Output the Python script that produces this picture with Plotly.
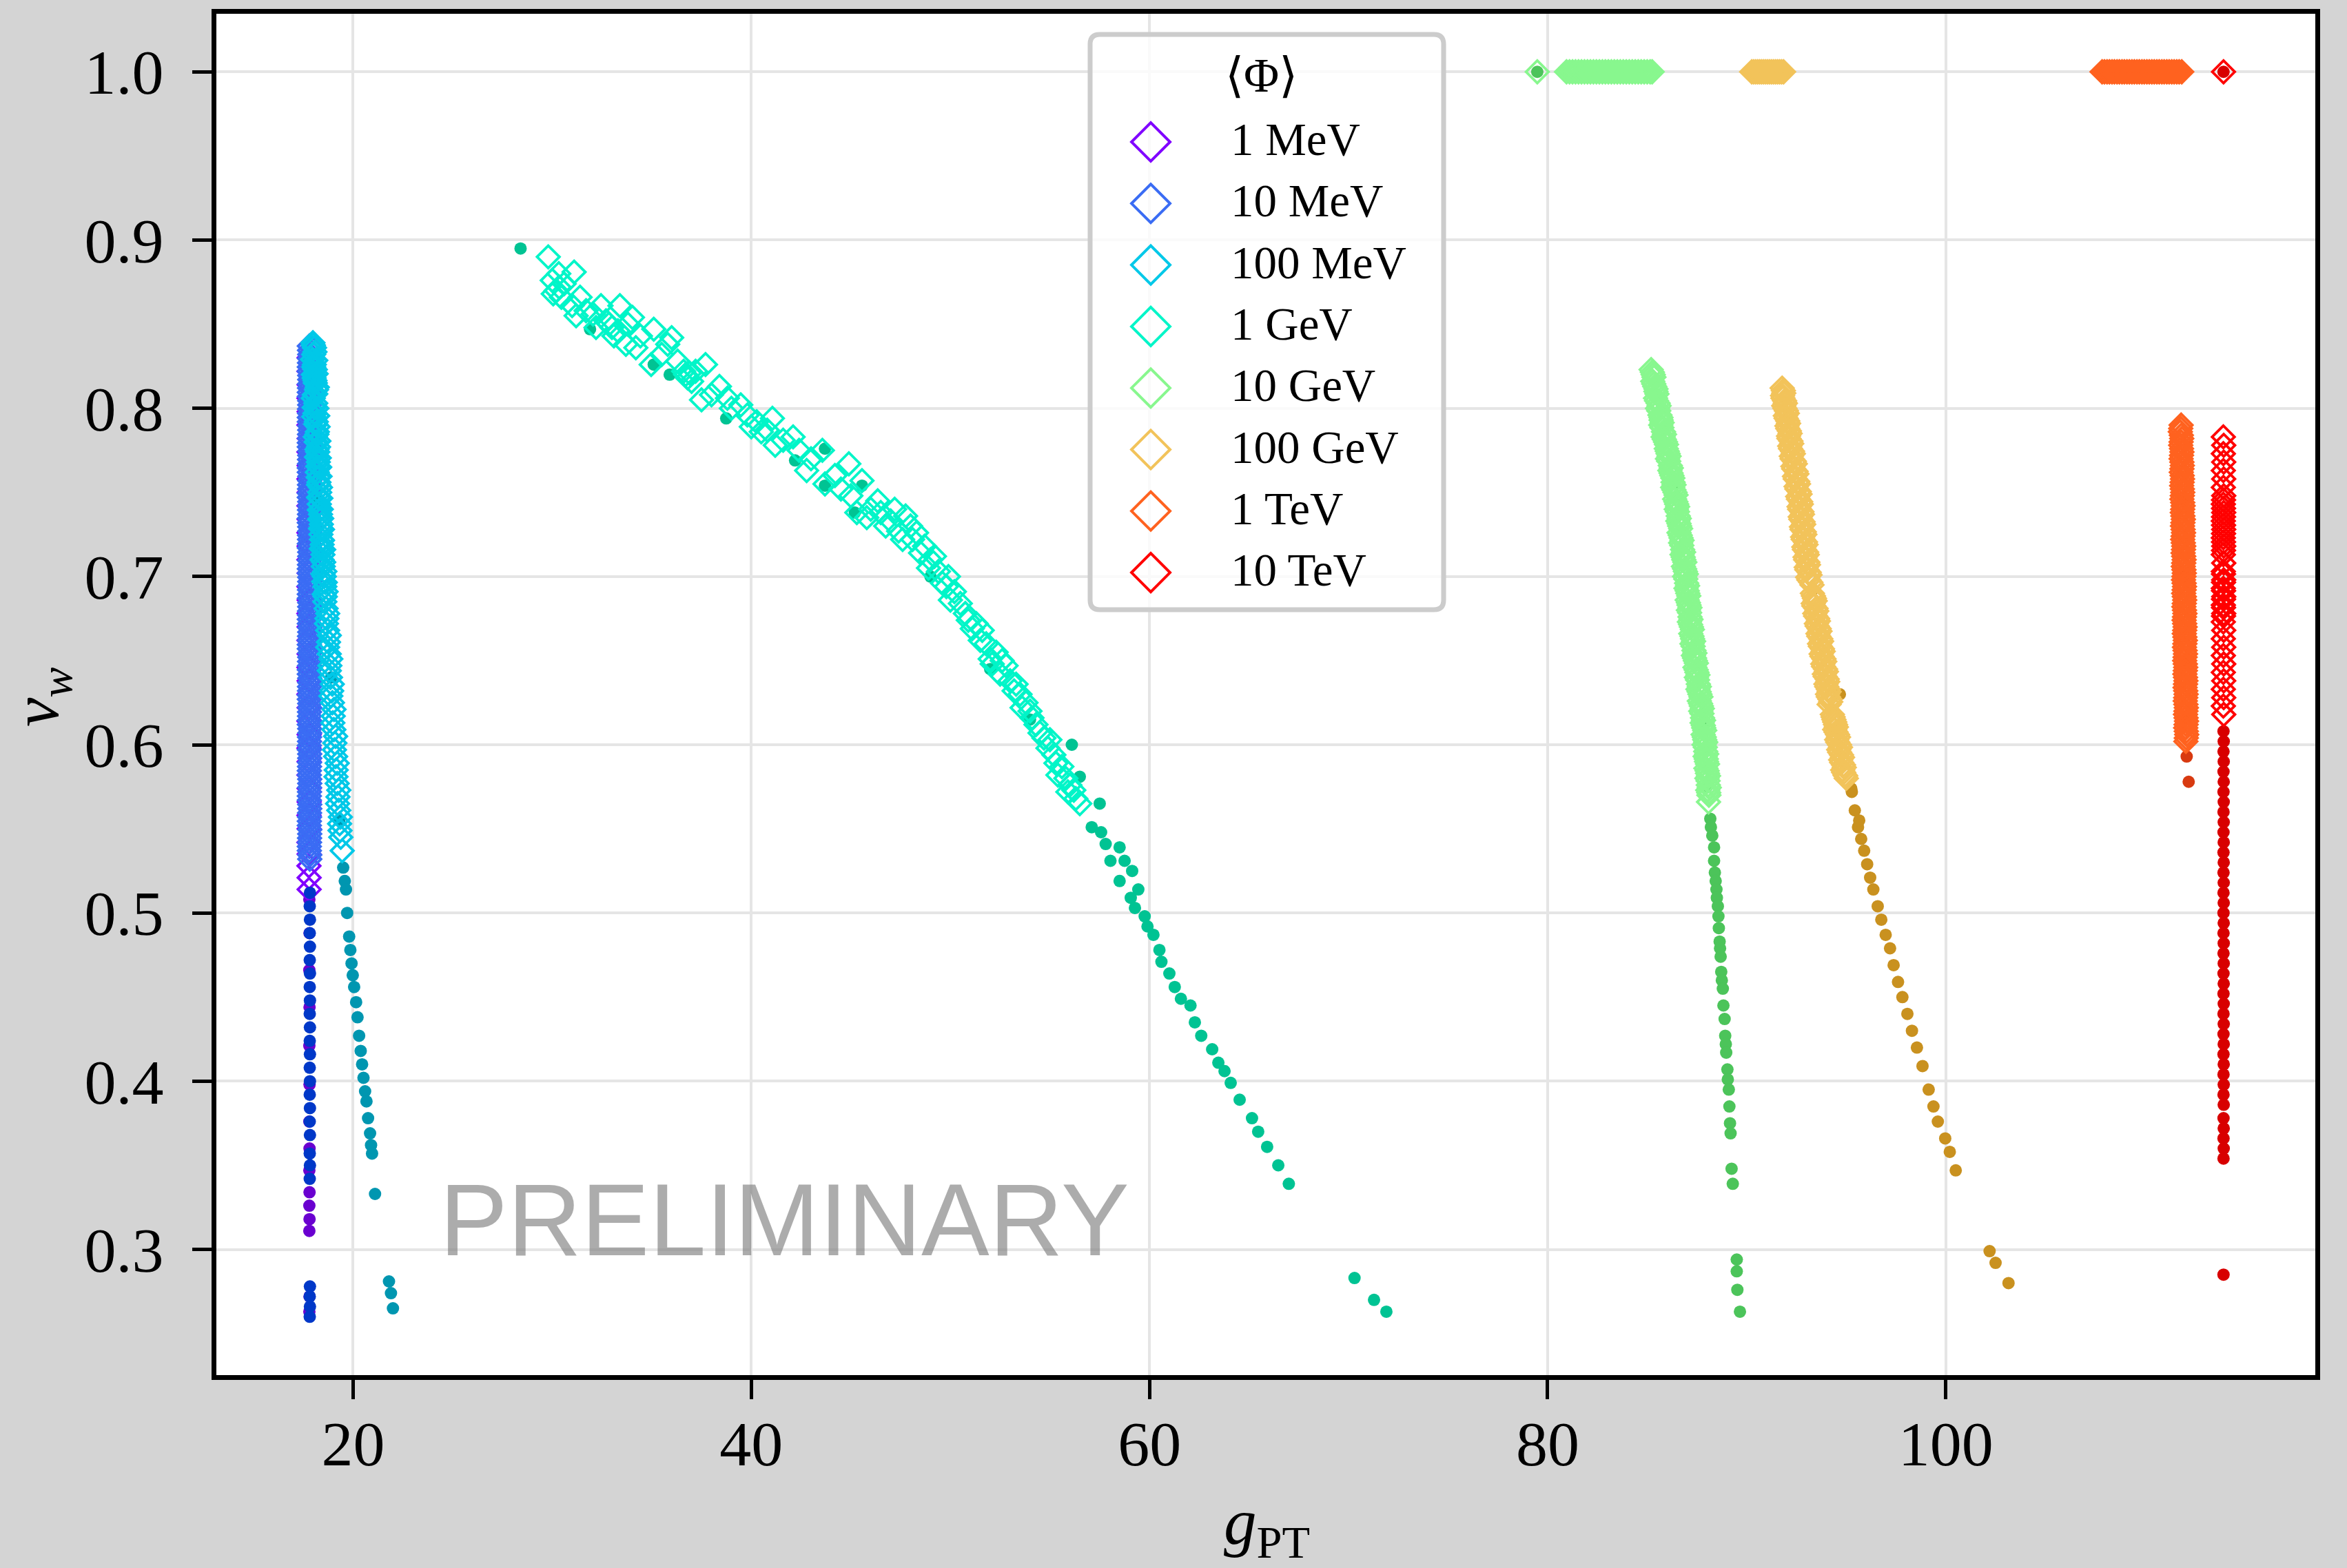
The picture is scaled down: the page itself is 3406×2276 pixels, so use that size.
import plotly.graph_objects as go

# ---------------- data ----------------
labels = ["1 MeV", "10 MeV", "100 MeV", "1 GeV", "10 GeV", "100 GeV", "1 TeV", "10 TeV"]
open_colors = ["#8000ff", "#3a6cf4", "#00c8e8", "#00f5c8", "#88f78e", "#f2c35a", "#ff621f", "#ff0000"]
dot_colors = ["#6a00d0", "#0038c8", "#0096b0", "#00c393", "#4cc45a", "#c9911f", "#d83a10", "#d80000"]
x_tick_vals = [20, 40, 60, 80, 100]
x_tick_text = ["20", "40", "60", "80", "100"]
y_tick_vals = [0.3, 0.4, 0.5, 0.6, 0.7, 0.8, 0.9, 1.0]
y_tick_text = ["0.3", "0.4", "0.5", "0.6", "0.7", "0.8", "0.9", "1.0"]

# (g_PT, v_w) pairs: open diamonds and filled dots for every <Phi> value
mev1_open = [(17.79, 0.830), (17.78, 0.822), (17.79, 0.814), (17.78, 0.806), (17.79, 0.798), (17.78, 0.790),
             (17.79, 0.782), (17.78, 0.774), (17.79, 0.766), (17.78, 0.758), (17.79, 0.750), (17.78, 0.742),
             (17.79, 0.734), (17.78, 0.726), (17.79, 0.718), (17.78, 0.710), (17.79, 0.702), (17.78, 0.694),
             (17.79, 0.686), (17.78, 0.678), (17.79, 0.670), (17.78, 0.662), (17.79, 0.654), (17.78, 0.646),
             (17.79, 0.638), (17.78, 0.630), (17.79, 0.622), (17.78, 0.614), (17.79, 0.606), (17.78, 0.598),
             (17.79, 0.590), (17.78, 0.582), (17.79, 0.574), (17.79, 0.566), (17.78, 0.558), (17.79, 0.550),
             (17.78, 0.542), (17.79, 0.535), (17.78, 0.528), (17.79, 0.521), (17.79, 0.514)]
mev1_dots = [(17.80, 0.508), (17.81, 0.488), (17.80, 0.466), (17.81, 0.444), (17.80, 0.421), (17.81, 0.398),
             (17.80, 0.376), (17.81, 0.360), (17.80, 0.347), (17.81, 0.334), (17.80, 0.326), (17.81, 0.318),
             (17.80, 0.311), (17.81, 0.272), (17.80, 0.263)]
mev10_open = [(17.80, 0.837), (17.82, 0.832), (17.81, 0.827), (17.80, 0.822), (17.82, 0.817), (17.81, 0.812),
              (17.80, 0.807), (17.82, 0.802), (17.81, 0.797), (17.80, 0.792), (17.82, 0.787), (17.81, 0.782),
              (17.80, 0.777), (17.82, 0.772), (17.81, 0.767), (17.80, 0.762), (17.82, 0.757), (17.81, 0.752),
              (17.80, 0.747), (17.82, 0.742), (17.81, 0.737), (17.80, 0.732), (17.82, 0.727), (17.81, 0.722),
              (17.80, 0.717), (17.82, 0.712), (17.81, 0.707), (17.80, 0.702), (17.82, 0.697), (17.81, 0.692),
              (17.80, 0.687), (17.82, 0.682), (17.81, 0.677), (17.80, 0.672), (17.82, 0.667), (17.81, 0.662),
              (17.80, 0.657), (17.82, 0.652), (17.81, 0.647), (17.80, 0.642), (17.82, 0.637), (17.81, 0.632),
              (17.80, 0.627), (17.82, 0.622), (17.81, 0.617), (17.80, 0.612), (17.82, 0.607), (17.81, 0.602),
              (17.80, 0.597), (17.82, 0.592), (17.81, 0.587), (17.80, 0.582), (17.82, 0.577), (17.81, 0.572),
              (17.80, 0.567), (17.82, 0.562), (17.81, 0.557), (17.80, 0.552), (17.82, 0.547), (17.81, 0.542),
              (17.80, 0.537), (17.82, 0.532),
              (17.81, 0.8345), (17.81, 0.8295), (17.80, 0.8245), (17.82, 0.8195), (17.81, 0.8145), (17.80, 0.8095),
              (17.82, 0.8045), (17.81, 0.7995), (17.80, 0.7945), (17.82, 0.7895), (17.81, 0.7845), (17.80, 0.7795),
              (17.82, 0.7745), (17.81, 0.7695), (17.80, 0.7645), (17.82, 0.7595), (17.81, 0.7545), (17.80, 0.7495),
              (17.82, 0.7445), (17.81, 0.7395), (17.80, 0.7345), (17.82, 0.7295), (17.81, 0.7245), (17.80, 0.7195),
              (17.82, 0.7145), (17.81, 0.7095), (17.80, 0.7045), (17.82, 0.6995), (17.81, 0.6945), (17.80, 0.6895),
              (17.82, 0.6845), (17.81, 0.6795), (17.80, 0.6745), (17.82, 0.6695), (17.81, 0.6645), (17.80, 0.6595),
              (17.82, 0.6545), (17.81, 0.6495), (17.80, 0.6445), (17.82, 0.6395), (17.81, 0.6345), (17.80, 0.6295),
              (17.82, 0.6245), (17.81, 0.6195), (17.80, 0.6145), (17.82, 0.6095), (17.81, 0.6045), (17.80, 0.5995),
              (17.82, 0.5945), (17.81, 0.5895), (17.80, 0.5845), (17.82, 0.5795), (17.81, 0.5745), (17.80, 0.5695),
              (17.82, 0.5645), (17.81, 0.5595), (17.80, 0.5545), (17.82, 0.5495), (17.81, 0.5445), (17.80, 0.5395),
              (17.82, 0.5345)]
mev10_dots = [(17.83, 0.512), (17.82, 0.504), (17.83, 0.496), (17.82, 0.488), (17.83, 0.480), (17.82, 0.472),
              (17.83, 0.464), (17.82, 0.456), (17.83, 0.448), (17.82, 0.440), (17.83, 0.432), (17.82, 0.424),
              (17.83, 0.416), (17.82, 0.408), (17.83, 0.400), (17.82, 0.392), (17.83, 0.384), (17.82, 0.376),
              (17.83, 0.368), (17.82, 0.357), (17.83, 0.350), (17.82, 0.342), (17.83, 0.278), (17.82, 0.272),
              (17.83, 0.266), (17.82, 0.260)]
mev100_open = [(17.98, 0.839), (18.06, 0.836), (18.02, 0.832), (17.96, 0.829), (18.05, 0.826), (18.10, 0.823),
               (18.00, 0.820), (18.04, 0.818), (18.10, 0.815), (18.16, 0.811), (18.05, 0.808), (18.00, 0.806),
               (18.12, 0.803), (18.18, 0.800), (18.08, 0.797), (18.02, 0.795), (18.15, 0.792), (18.24, 0.789),
               (18.20, 0.786), (18.10, 0.783), (18.14, 0.780), (18.26, 0.777), (18.22, 0.774), (18.16, 0.771),
               (18.25, 0.768), (18.32, 0.765), (18.20, 0.762), (18.24, 0.759), (18.28, 0.756), (18.36, 0.753),
               (18.32, 0.750), (18.26, 0.747), (18.30, 0.743), (18.40, 0.740), (18.36, 0.737), (18.32, 0.734),
               (18.40, 0.731), (18.46, 0.728), (18.38, 0.725), (18.42, 0.722), (18.44, 0.719), (18.52, 0.716),
               (18.48, 0.713), (18.44, 0.710), (18.50, 0.706), (18.58, 0.703), (18.55, 0.700), (18.52, 0.697),
               (18.58, 0.694), (18.64, 0.691), (18.60, 0.688), (18.58, 0.685), (18.64, 0.681), (18.72, 0.678),
               (18.68, 0.675), (18.66, 0.672), (18.72, 0.668), (18.80, 0.665), (18.76, 0.661), (18.72, 0.658),
               (18.80, 0.654), (18.88, 0.651), (18.83, 0.647), (18.80, 0.644), (18.86, 0.640), (18.95, 0.636),
               (18.92, 0.632), (18.88, 0.629), (18.96, 0.625), (19.04, 0.621), (19.00, 0.617), (18.98, 0.613),
               (19.03, 0.609), (19.12, 0.605), (19.08, 0.601), (19.06, 0.597), (19.12, 0.593), (19.20, 0.589),
               (19.15, 0.585), (19.14, 0.581), (19.20, 0.577), (19.28, 0.573), (19.24, 0.569), (19.22, 0.565),
               (19.28, 0.561), (19.36, 0.557), (19.32, 0.553), (19.34, 0.549), (19.38, 0.545), (19.45, 0.537),
               (18.00, 0.8375), (18.08, 0.8335), (18.12, 0.8285), (18.02, 0.8245), (18.14, 0.8205), (18.08, 0.8165),
               (18.20, 0.8125), (18.12, 0.8085), (18.04, 0.8005), (18.22, 0.7955), (18.12, 0.7905), (18.18, 0.7845),
               (18.28, 0.7805), (18.18, 0.7755), (18.30, 0.7705), (18.22, 0.7655), (18.34, 0.7595), (18.26, 0.7545),
               (18.38, 0.7465), (18.30, 0.7395), (18.42, 0.7345), (18.36, 0.7285), (18.46, 0.7215), (18.40, 0.7165),
               (18.52, 0.7085), (18.48, 0.7015), (18.60, 0.6965), (18.54, 0.6895)]
mev100_dots = [(18.30, 0.745), (18.90, 0.640), (19.30, 0.555), (19.50, 0.527), (19.58, 0.519), (19.64, 0.514),
               (19.70, 0.500), (19.80, 0.486), (19.86, 0.478), (19.92, 0.470), (19.98, 0.463), (20.05, 0.456),
               (20.15, 0.447), (20.22, 0.438), (20.30, 0.427), (20.38, 0.418), (20.45, 0.410), (20.52, 0.402),
               (20.60, 0.394), (20.67, 0.388), (20.75, 0.378), (20.85, 0.369), (20.90, 0.362), (20.95, 0.357),
               (21.10, 0.333), (21.80, 0.281), (21.90, 0.274), (22.00, 0.265)]
gev1_open = [(29.80, 0.890), (30.33, 0.880), (31.10, 0.881), (30.05, 0.868), (30.46, 0.866), (30.20, 0.870),
             (30.35, 0.872), (31.00, 0.861), (31.40, 0.866), (32.05, 0.856), (32.45, 0.861), (32.70, 0.852),
             (32.85, 0.850), (33.00, 0.848), (33.30, 0.846), (33.40, 0.861), (33.10, 0.843), (34.03, 0.854),
             (33.70, 0.838), (34.43, 0.843), (35.10, 0.847), (34.97, 0.826), (36.00, 0.842), (36.60, 0.822),
             (36.70, 0.820), (36.80, 0.818), (36.90, 0.821), (37.00, 0.816), (37.70, 0.826), (37.50, 0.805),
             (38.40, 0.813), (39.47, 0.802), (40.00, 0.789), (40.27, 0.792), (40.50, 0.786), (41.06, 0.794),
             (41.20, 0.778), (42.10, 0.783), (42.78, 0.763), (43.57, 0.775), (43.70, 0.755), (44.90, 0.767),
             (45.56, 0.757), (45.30, 0.738), (45.80, 0.735), (46.00, 0.740), (46.35, 0.745), (46.75, 0.730),
             (47.00, 0.733), (47.20, 0.740), (47.40, 0.727), (47.75, 0.736), (48.00, 0.730), (48.10, 0.722),
             (48.50, 0.714), (48.70, 0.718), (48.90, 0.705), (49.20, 0.712), (49.40, 0.703), (49.60, 0.696),
             (49.90, 0.700), (50.20, 0.691), (50.50, 0.684), (50.75, 0.678), (51.10, 0.669), (51.30, 0.672),
             (51.50, 0.662), (51.80, 0.660), (52.00, 0.651), (52.30, 0.655), (52.50, 0.642), (52.80, 0.647),
             (53.00, 0.638), (53.20, 0.632), (53.50, 0.630), (53.80, 0.625), (54.10, 0.616), (54.30, 0.612),
             (54.50, 0.607), (54.90, 0.598), (55.00, 0.603), (55.30, 0.589), (55.60, 0.587), (55.80, 0.580),
             (56.00, 0.576), (56.20, 0.573), (56.50, 0.565),
             (30.00, 0.876), (30.60, 0.874), (31.70, 0.858), (31.20, 0.855), (32.20, 0.848), (33.80, 0.850),
             (34.20, 0.836), (35.50, 0.832), (35.80, 0.838), (36.30, 0.828), (37.20, 0.822), (38.00, 0.808),
             (38.80, 0.806), (39.00, 0.800), (39.80, 0.796), (40.80, 0.787), (41.60, 0.781), (42.40, 0.775),
             (43.00, 0.770), (44.20, 0.760), (44.50, 0.752), (45.00, 0.748), (46.50, 0.738), (47.60, 0.722),
             (48.30, 0.726), (49.00, 0.710), (49.80, 0.694), (50.00, 0.686), (50.90, 0.674), (51.60, 0.668),
             (52.10, 0.648), (52.60, 0.650), (53.30, 0.636), (53.60, 0.622), (54.00, 0.620), (54.70, 0.604),
             (55.20, 0.594), (55.40, 0.582), (56.30, 0.568), (55.90, 0.572)]
gev1_dots = [(28.41, 0.895), (31.90, 0.847), (35.10, 0.826), (35.90, 0.820), (38.74, 0.794), (42.20, 0.769),
             (43.70, 0.776), (43.70, 0.754), (45.56, 0.754), (45.20, 0.738), (49.00, 0.700), (52.00, 0.645),
             (54.00, 0.615), (56.10, 0.600), (56.50, 0.581), (57.50, 0.565), (57.10, 0.551), (57.57, 0.548),
             (57.80, 0.541), (58.50, 0.539), (58.04, 0.531), (58.75, 0.531), (59.13, 0.525), (58.50, 0.519),
             (59.44, 0.514), (59.06, 0.509), (59.27, 0.503), (59.76, 0.498), (59.90, 0.492), (60.20, 0.487),
             (60.50, 0.478), (60.60, 0.471), (61.00, 0.464), (61.27, 0.456), (61.58, 0.449), (62.06, 0.445),
             (62.28, 0.435), (62.60, 0.427), (63.15, 0.419), (63.46, 0.411), (63.77, 0.406), (64.08, 0.399),
             (64.53, 0.389), (65.15, 0.378), (65.46, 0.370), (65.91, 0.361), (66.47, 0.350), (67.00, 0.339),
             (70.30, 0.283), (71.28, 0.270), (71.90, 0.263)]
gev10_open = [(79.48, 1.000), (80.95, 1.000), (81.10, 1.000), (81.25, 1.000), (81.40, 1.000), (81.55, 1.000),
              (81.70, 1.000), (81.85, 1.000), (82.00, 1.000), (82.15, 1.000), (82.30, 1.000), (82.45, 1.000),
              (82.60, 1.000), (82.75, 1.000), (82.90, 1.000), (83.05, 1.000), (83.20, 1.000), (83.35, 1.000),
              (83.50, 1.000), (83.65, 1.000), (83.80, 1.000), (83.95, 1.000), (84.10, 1.000), (84.25, 1.000),
              (84.40, 1.000), (84.55, 1.000), (84.70, 1.000), (84.85, 1.000), (85.00, 1.000), (85.15, 1.000),
              (85.25, 1.000),
              (85.20, 0.823), (85.30, 0.820), (85.28, 0.816), (85.38, 0.813), (85.44, 0.810), (85.42, 0.806),
              (85.55, 0.803), (85.52, 0.800), (85.64, 0.796), (85.70, 0.793), (85.68, 0.790), (85.82, 0.786),
              (85.80, 0.783), (85.92, 0.780), (85.96, 0.776), (86.05, 0.773), (86.02, 0.770), (86.16, 0.766),
              (86.14, 0.763), (86.24, 0.760), (86.30, 0.756), (86.28, 0.753), (86.40, 0.750), (86.38, 0.746),
              (86.48, 0.743), (86.46, 0.740), (86.56, 0.736), (86.54, 0.733), (86.63, 0.730), (86.60, 0.726),
              (86.70, 0.723), (86.68, 0.720), (86.78, 0.716), (86.75, 0.713), (86.84, 0.710), (86.82, 0.706),
              (86.92, 0.703), (86.88, 0.700), (86.98, 0.696), (86.95, 0.693), (87.04, 0.690), (87.01, 0.686),
              (87.10, 0.683), (87.07, 0.680), (87.15, 0.676), (87.12, 0.673), (87.22, 0.670), (87.19, 0.666),
              (87.28, 0.663), (87.25, 0.660), (87.35, 0.656), (87.32, 0.653), (87.42, 0.650), (87.40, 0.646),
              (87.50, 0.643), (87.47, 0.640), (87.57, 0.636), (87.55, 0.633), (87.65, 0.630), (87.62, 0.626),
              (87.72, 0.623), (87.69, 0.620), (87.78, 0.616), (87.76, 0.613), (87.84, 0.610), (87.81, 0.606),
              (87.89, 0.603), (87.86, 0.600), (87.94, 0.596), (87.91, 0.593), (87.98, 0.590), (87.95, 0.586),
              (88.03, 0.583), (88.00, 0.580), (88.07, 0.576), (88.04, 0.573), (88.10, 0.570), (88.08, 0.566),
              (85.26, 0.8215), (85.34, 0.8185), (85.33, 0.8145), (85.44, 0.8115), (85.49, 0.8085), (85.47, 0.8045),
              (85.60, 0.8015), (85.58, 0.7985), (85.69, 0.7945), (85.75, 0.7915), (85.74, 0.7885), (85.87, 0.7845),
              (85.86, 0.7815), (85.97, 0.7785), (86.01, 0.7745), (86.10, 0.7715), (86.08, 0.7685), (86.21, 0.7645),
              (86.20, 0.7615), (86.29, 0.7585), (86.35, 0.7545), (86.34, 0.7515), (86.45, 0.7485), (86.44, 0.7445),
              (86.53, 0.7415), (86.52, 0.7385), (86.61, 0.7345), (86.60, 0.7315), (86.68, 0.7285), (86.66, 0.7245),
              (86.75, 0.7215), (86.74, 0.7185), (86.83, 0.7145), (86.81, 0.7115), (86.89, 0.7085), (86.88, 0.7045),
              (86.97, 0.7015), (86.94, 0.6985), (87.03, 0.6945), (87.01, 0.6915), (87.09, 0.6885), (87.07, 0.6845),
              (87.15, 0.6815), (87.13, 0.6785), (87.20, 0.6745), (87.18, 0.6715), (87.27, 0.6685), (87.25, 0.6645),
              (87.33, 0.6615), (87.31, 0.6585), (87.40, 0.6545), (87.38, 0.6515), (87.47, 0.6485), (87.46, 0.6445),
              (87.55, 0.6415), (87.53, 0.6385), (87.62, 0.6345), (87.61, 0.6315), (87.70, 0.6285), (87.68, 0.6245),
              (87.77, 0.6215), (87.75, 0.6185), (87.83, 0.6145), (87.82, 0.6115), (87.89, 0.6085), (87.87, 0.6045),
              (87.94, 0.6015), (87.92, 0.5985), (87.99, 0.5945), (87.97, 0.5915), (88.03, 0.5885), (88.01, 0.5845),
              (88.08, 0.5815), (88.06, 0.5785), (88.12, 0.5745), (88.09, 0.5715)]
gev10_dots = [(79.48, 1.000), (86.30, 0.755), (87.80, 0.610), (88.00, 0.575), (88.17, 0.556), (88.20, 0.551),
              (88.27, 0.546), (88.36, 0.539), (88.36, 0.531), (88.40, 0.524), (88.44, 0.519), (88.48, 0.514),
              (88.50, 0.509), (88.55, 0.504), (88.58, 0.498), (88.60, 0.491), (88.64, 0.483), (88.66, 0.479),
              (88.69, 0.474), (88.72, 0.465), (88.75, 0.460), (88.80, 0.455), (88.83, 0.445), (88.89, 0.437),
              (88.92, 0.427), (88.95, 0.422), (88.97, 0.417), (89.03, 0.407), (89.05, 0.401), (89.10, 0.395),
              (89.13, 0.385), (89.16, 0.375), (89.19, 0.369), (89.24, 0.348), (89.30, 0.339), (89.50, 0.294),
              (89.50, 0.287), (89.53, 0.276), (89.66, 0.263)]
gev100_open = [(90.25, 1.000), (90.35, 1.000), (90.45, 1.000), (90.55, 1.000), (90.65, 1.000), (90.75, 1.000),
               (90.85, 1.000), (90.95, 1.000), (91.05, 1.000), (91.15, 1.000), (91.25, 1.000), (91.35, 1.000),
               (91.45, 1.000), (91.55, 1.000), (91.65, 1.000), (91.75, 1.000), (91.85, 1.000),
               (91.78, 0.812), (91.86, 0.809), (91.82, 0.806), (91.94, 0.803), (91.92, 0.800), (92.04, 0.797),
               (91.98, 0.794), (92.10, 0.791), (92.06, 0.788), (92.18, 0.785), (92.12, 0.782), (92.26, 0.779),
               (92.20, 0.776), (92.34, 0.773), (92.28, 0.770), (92.44, 0.767), (92.36, 0.764), (92.52, 0.761),
               (92.44, 0.758), (92.60, 0.755), (92.52, 0.752), (92.68, 0.749), (92.60, 0.746), (92.74, 0.743),
               (92.66, 0.740), (92.80, 0.737), (92.72, 0.734), (92.86, 0.731), (92.78, 0.728), (92.92, 0.725),
               (92.84, 0.722), (92.98, 0.719), (92.90, 0.716), (93.04, 0.713), (92.96, 0.710), (93.10, 0.707),
               (93.02, 0.704), (93.18, 0.701), (93.12, 0.698), (93.28, 0.695), (93.30, 0.690), (93.40, 0.687),
               (93.34, 0.684), (93.48, 0.681), (93.42, 0.678), (93.56, 0.675), (93.50, 0.672), (93.64, 0.669),
               (93.58, 0.666), (93.72, 0.663), (93.66, 0.660), (93.80, 0.657), (93.74, 0.654), (93.88, 0.651),
               (93.82, 0.648), (93.96, 0.645), (93.90, 0.642), (94.04, 0.639), (93.98, 0.636), (94.10, 0.633),
               (94.06, 0.630), (94.18, 0.627), (94.14, 0.624), (94.30, 0.618), (94.38, 0.615), (94.46, 0.612),
               (94.42, 0.609), (94.56, 0.606), (94.52, 0.603), (94.66, 0.600), (94.62, 0.597), (94.76, 0.594),
               (94.72, 0.591), (94.86, 0.588), (94.82, 0.585), (94.94, 0.582), (95.00, 0.580),
               (91.84, 0.8105), (91.80, 0.8075), (91.90, 0.8045), (91.86, 0.8015), (91.99, 0.7985), (91.94, 0.7955),
               (92.06, 0.7925), (92.02, 0.7895), (92.14, 0.7865), (92.10, 0.7835), (92.22, 0.7805), (92.16, 0.7775),
               (92.30, 0.7745), (92.24, 0.7715), (92.39, 0.7685), (92.32, 0.7655), (92.48, 0.7625), (92.40, 0.7595),
               (92.56, 0.7565), (92.48, 0.7535), (92.64, 0.7505), (92.56, 0.7475), (92.71, 0.7445), (92.63, 0.7415),
               (92.77, 0.7385), (92.69, 0.7355), (92.83, 0.7325), (92.75, 0.7295), (92.89, 0.7265), (92.81, 0.7235),
               (92.95, 0.7205), (92.87, 0.7175), (93.01, 0.7145), (92.93, 0.7115), (93.07, 0.7085), (92.99, 0.7055),
               (93.14, 0.7025), (93.06, 0.6995), (93.22, 0.6965), (93.35, 0.6885), (93.44, 0.6855), (93.37, 0.6825),
               (93.52, 0.6795), (93.46, 0.6765), (93.60, 0.6735), (93.54, 0.6705), (93.68, 0.6675), (93.62, 0.6645),
               (93.76, 0.6615), (93.70, 0.6585), (93.84, 0.6555), (93.78, 0.6525), (93.92, 0.6495), (93.86, 0.6465),
               (94.00, 0.6435), (93.94, 0.6405), (94.07, 0.6375), (94.02, 0.6345), (94.14, 0.6315), (94.10, 0.6285),
               (94.22, 0.6255), (94.34, 0.6165), (94.42, 0.6135), (94.50, 0.6105), (94.49, 0.6075), (94.61, 0.6045),
               (94.57, 0.6015), (94.71, 0.5985), (94.67, 0.5955), (94.81, 0.5925), (94.77, 0.5895), (94.90, 0.5865),
               (94.87, 0.5835), (94.97, 0.5815)]
gev100_dots = [(93.30, 0.692), (94.68, 0.630), (95.25, 0.574), (95.28, 0.572), (95.43, 0.561), (95.59, 0.551),
               (95.65, 0.555), (95.75, 0.544), (95.90, 0.537), (96.05, 0.529), (96.20, 0.521), (96.36, 0.514),
               (96.58, 0.504), (96.76, 0.496), (96.98, 0.487), (97.20, 0.479), (97.38, 0.469), (97.60, 0.459),
               (97.82, 0.450), (98.07, 0.440), (98.30, 0.430), (98.55, 0.420), (98.83, 0.409), (99.14, 0.395),
               (99.38, 0.385), (99.60, 0.376), (99.97, 0.366), (100.20, 0.358), (100.50, 0.347), (102.20, 0.299),
               (102.50, 0.292), (103.15, 0.280)]
tev1_open = [(107.85, 1.000), (107.97, 1.000), (108.10, 1.000), (108.22, 1.000), (108.35, 1.000), (108.47, 1.000),
             (108.60, 1.000), (108.72, 1.000), (108.85, 1.000), (108.97, 1.000), (109.10, 1.000), (109.22, 1.000),
             (109.35, 1.000), (109.47, 1.000), (109.60, 1.000), (109.72, 1.000), (109.85, 1.000), (109.97, 1.000),
             (110.10, 1.000), (110.22, 1.000), (110.35, 1.000), (110.47, 1.000), (110.60, 1.000), (110.72, 1.000),
             (110.85, 1.000), (110.97, 1.000), (111.10, 1.000), (111.22, 1.000), (111.35, 1.000), (111.47, 1.000),
             (111.60, 1.000), (111.72, 1.000), (111.85, 1.000),
             (111.82, 0.790), (111.78, 0.786), (111.85, 0.782), (111.80, 0.778), (111.86, 0.774), (111.82, 0.770),
             (111.88, 0.766), (111.83, 0.762), (111.89, 0.758), (111.85, 0.754), (111.90, 0.750), (111.86, 0.746),
             (111.92, 0.742), (111.88, 0.738), (111.93, 0.734), (111.89, 0.730), (111.94, 0.726), (111.90, 0.722),
             (111.95, 0.718), (111.92, 0.714), (111.97, 0.710), (111.93, 0.706), (111.98, 0.702), (111.94, 0.698),
             (111.99, 0.694), (111.95, 0.690), (112.00, 0.686), (111.96, 0.682), (112.01, 0.678), (111.97, 0.674),
             (112.02, 0.670), (111.98, 0.666), (112.03, 0.662), (111.99, 0.658), (112.04, 0.654), (112.00, 0.650),
             (112.05, 0.646), (112.01, 0.642), (112.06, 0.638), (112.02, 0.634), (112.07, 0.630), (112.03, 0.626),
             (112.08, 0.622), (112.04, 0.618), (112.09, 0.614), (112.05, 0.610), (112.10, 0.606), (112.06, 0.602),
             (111.80, 0.788), (111.83, 0.784), (111.82, 0.780), (111.84, 0.776), (111.84, 0.772), (111.86, 0.768),
             (111.86, 0.764), (111.87, 0.760), (111.87, 0.756), (111.88, 0.752), (111.88, 0.748), (111.90, 0.744),
             (111.90, 0.740), (111.91, 0.736), (111.91, 0.732), (111.92, 0.728), (111.92, 0.724), (111.93, 0.720),
             (111.94, 0.716), (111.95, 0.712), (111.95, 0.708), (111.96, 0.704), (111.96, 0.700), (111.97, 0.696),
             (111.97, 0.692), (111.98, 0.688), (111.98, 0.684), (111.99, 0.680), (111.99, 0.676), (112.00, 0.672),
             (112.00, 0.668), (112.01, 0.664), (112.01, 0.660), (112.02, 0.656), (112.02, 0.652), (112.03, 0.648),
             (112.03, 0.644), (112.04, 0.640), (112.04, 0.636), (112.05, 0.632), (112.05, 0.628), (112.06, 0.624),
             (112.06, 0.620), (112.07, 0.616), (112.07, 0.612), (112.08, 0.608), (112.08, 0.604)]
tev1_dots = [(109.30, 1.000), (111.95, 0.745), (112.00, 0.700), (112.02, 0.650), (112.06, 0.615),
             (112.10, 0.593), (112.20, 0.578)]
tev10_open = [(113.95, 1.000), (113.94, 0.783), (113.96, 0.778), (113.94, 0.773), (113.96, 0.768), (113.94, 0.763),
              (113.96, 0.758), (113.94, 0.753), (113.96, 0.748), (113.94, 0.743), (113.96, 0.738), (113.94, 0.733),
              (113.96, 0.728), (113.94, 0.723), (113.96, 0.718), (113.94, 0.713), (113.96, 0.708), (113.94, 0.703),
              (113.96, 0.698), (113.94, 0.693), (113.96, 0.688), (113.94, 0.683), (113.96, 0.678), (113.94, 0.673),
              (113.96, 0.668), (113.94, 0.663), (113.96, 0.658), (113.94, 0.653), (113.96, 0.648), (113.94, 0.643),
              (113.96, 0.638), (113.94, 0.633), (113.96, 0.628), (113.94, 0.623), (113.96, 0.618),
              (113.95, 0.7455), (113.95, 0.7405), (113.95, 0.7355), (113.95, 0.7305), (113.95, 0.7255),
              (113.95, 0.7205), (113.95, 0.7155), (113.95, 0.7015), (113.95, 0.6965), (113.95, 0.6915),
              (113.95, 0.6865), (113.95, 0.6815), (113.95, 0.6765)]
tev10_dots = [(113.95, 1.000), (113.95, 0.608), (113.96, 0.602), (113.95, 0.596), (113.96, 0.590), (113.95, 0.584),
              (113.96, 0.578), (113.95, 0.572), (113.96, 0.566), (113.95, 0.560), (113.96, 0.554), (113.95, 0.548),
              (113.96, 0.542), (113.95, 0.536), (113.96, 0.530), (113.95, 0.524), (113.96, 0.518), (113.95, 0.512),
              (113.96, 0.506), (113.95, 0.500), (113.96, 0.494), (113.95, 0.488), (113.96, 0.482), (113.95, 0.476),
              (113.96, 0.470), (113.95, 0.464), (113.96, 0.458), (113.95, 0.452), (113.96, 0.446), (113.95, 0.440),
              (113.96, 0.434), (113.95, 0.428), (113.96, 0.422), (113.95, 0.416), (113.96, 0.410), (113.95, 0.404),
              (113.96, 0.398), (113.95, 0.392), (113.96, 0.386), (113.95, 0.378), (113.96, 0.372), (113.95, 0.366),
              (113.96, 0.360), (113.95, 0.354), (113.95, 0.285)]

series_open = [mev1_open, mev10_open, mev100_open, gev1_open, gev10_open, gev100_open, tev1_open, tev10_open]
series_dots = [mev1_dots, mev10_dots, mev100_dots, gev1_dots, gev10_dots, gev100_dots, tev1_dots, tev10_dots]

# ---------------- layout geometry ----------------
W, H = 3406, 2276
ML, MR, MT, MB = 314, 46, 20, 280
PW, PH = W - ML - MR, H - MT - MB
x_range = [13.13, 118.56]
y_range = [0.2253, 1.0345]
SERIF = "Liberation Serif, Times New Roman, serif"


def paper_x(px):
    return (px - ML) / PW


def paper_y(py):
    return 1 - (py - MT) / PH


fig = go.Figure()

for i in range(len(labels)):
    dg = [p[0] for p in series_dots[i]]
    dv = [p[1] for p in series_dots[i]]
    og = [p[0] for p in series_open[i]]
    ov = [p[1] for p in series_open[i]]
    fig.add_trace(go.Scatter(x=dg, y=dv, mode="markers", name=labels[i], showlegend=False,
                             marker=dict(symbol="circle", size=18, color=dot_colors[i], line=dict(width=0))))
    fig.add_trace(go.Scatter(x=og, y=ov, mode="markers", name=labels[i], showlegend=False,
                             marker=dict(symbol="diamond-open", size=25, color=open_colors[i],
                                         line=dict(width=3.8))))

# ---------------- custom legend (pixel coordinates inside the plot area) ----------------
leg_x0, leg_x1, leg_y0, leg_y1 = 1268, 1781, 30, 865
leg_marker_x = 1356
leg_text_x = 1470
leg_row0 = 186
leg_row_dy = 89.3
leg_rows = [leg_row0 + leg_row_dy * k for k in range(len(labels))]

fig.add_trace(go.Scatter(x=[leg_marker_x] * len(labels), y=leg_rows, xaxis="x2", yaxis="y2",
                         mode="markers", showlegend=False, hoverinfo="skip",
                         marker=dict(symbol="diamond-open", size=43, color=open_colors, line=dict(width=4))))


def px2x(px):
    return x_range[0] + px / PW * (x_range[1] - x_range[0])


def py2y(py):
    return y_range[1] - py / PH * (y_range[1] - y_range[0])


r = 14
pts = [("M", leg_x0 + r, leg_y0), ("L", leg_x1 - r, leg_y0), ("Q", leg_x1, leg_y0, leg_x1, leg_y0 + r),
       ("L", leg_x1, leg_y1 - r), ("Q", leg_x1, leg_y1, leg_x1 - r, leg_y1), ("L", leg_x0 + r, leg_y1),
       ("Q", leg_x0, leg_y1, leg_x0, leg_y1 - r), ("L", leg_x0, leg_y0 + r), ("Q", leg_x0, leg_y0, leg_x0 + r, leg_y0)]
path = ""
for seg in pts:
    cmd = seg[0]
    coords = seg[1:]
    parts = []
    for j in range(0, len(coords), 2):
        parts.append("%.5f,%.6f" % (px2x(coords[j]), py2y(coords[j + 1])))
    path += cmd + " ".join(parts) + " "
path += "Z"

fig.add_shape(type="path", path=path, xref="x", yref="y", layer="between",
              fillcolor="rgba(255,255,255,0.8)", line=dict(color="#cccccc", width=7))

annotations = []
annotations.append(dict(xref="x2", yref="y2", x=1516, y=89, text="⟨Φ⟩", showarrow=False,
                        xanchor="center", yanchor="middle",
                        font=dict(family=SERIF, size=70, color="black")))
for k, lab in enumerate(labels):
    annotations.append(dict(xref="x2", yref="y2", x=leg_text_x, y=leg_rows[k] - 4, text=lab, showarrow=False,
                            xanchor="left", yanchor="middle",
                            font=dict(family=SERIF, size=67, color="black")))

annotations.append(dict(xref="paper", yref="paper", x=paper_x(1138), y=paper_y(1770), text="PRELIMINARY",
                        showarrow=False, xanchor="center", yanchor="middle",
                        font=dict(family="Liberation Sans, Arial, sans-serif", size=148,
                                  color="rgba(128,128,128,0.65)")))
annotations.append(dict(xref="paper", yref="paper", x=paper_x(1838), y=paper_y(2154),
                        text="<i>g</i><sub>PT</sub>", showarrow=False, xanchor="center", yanchor="top",
                        font=dict(family=SERIF, size=95, color="black")))
annotations.append(dict(xref="paper", yref="paper", x=paper_x(59), y=paper_y(1012),
                        text="<i>v</i><sub><i>w</i></sub>", showarrow=False, xanchor="center",
                        yanchor="middle", textangle=-90,
                        font=dict(family=SERIF, size=95, color="black")))

axis_common = dict(showgrid=True, gridcolor="#e5e5e5", gridwidth=4, zeroline=False,
                   showline=True, linecolor="black", linewidth=7, mirror=True,
                   ticks="outside", ticklen=28, tickwidth=5, tickcolor="black",
                   tickfont=dict(family=SERIF, size=92, color="black"))

fig.update_layout(
    width=W, height=H, autosize=False,
    margin=dict(l=ML, r=MR, t=MT, b=MB, pad=0),
    paper_bgcolor="#d4d4d4", plot_bgcolor="white",
    showlegend=False, hovermode=False,
    font=dict(family=SERIF, color="black"),
    xaxis=dict(range=x_range, tickmode="array", tickvals=x_tick_vals, ticktext=x_tick_text,
               ticklabelstandoff=-14, **axis_common),
    yaxis=dict(range=y_range, tickmode="array", tickvals=y_tick_vals, ticktext=y_tick_text,
               ticklabelstandoff=23, **axis_common),
    xaxis2=dict(overlaying="x", range=[0, PW], visible=False, fixedrange=True),
    yaxis2=dict(overlaying="y", range=[PH, 0], visible=False, fixedrange=True),
    annotations=annotations,
)

fig.write_html("out.html")
